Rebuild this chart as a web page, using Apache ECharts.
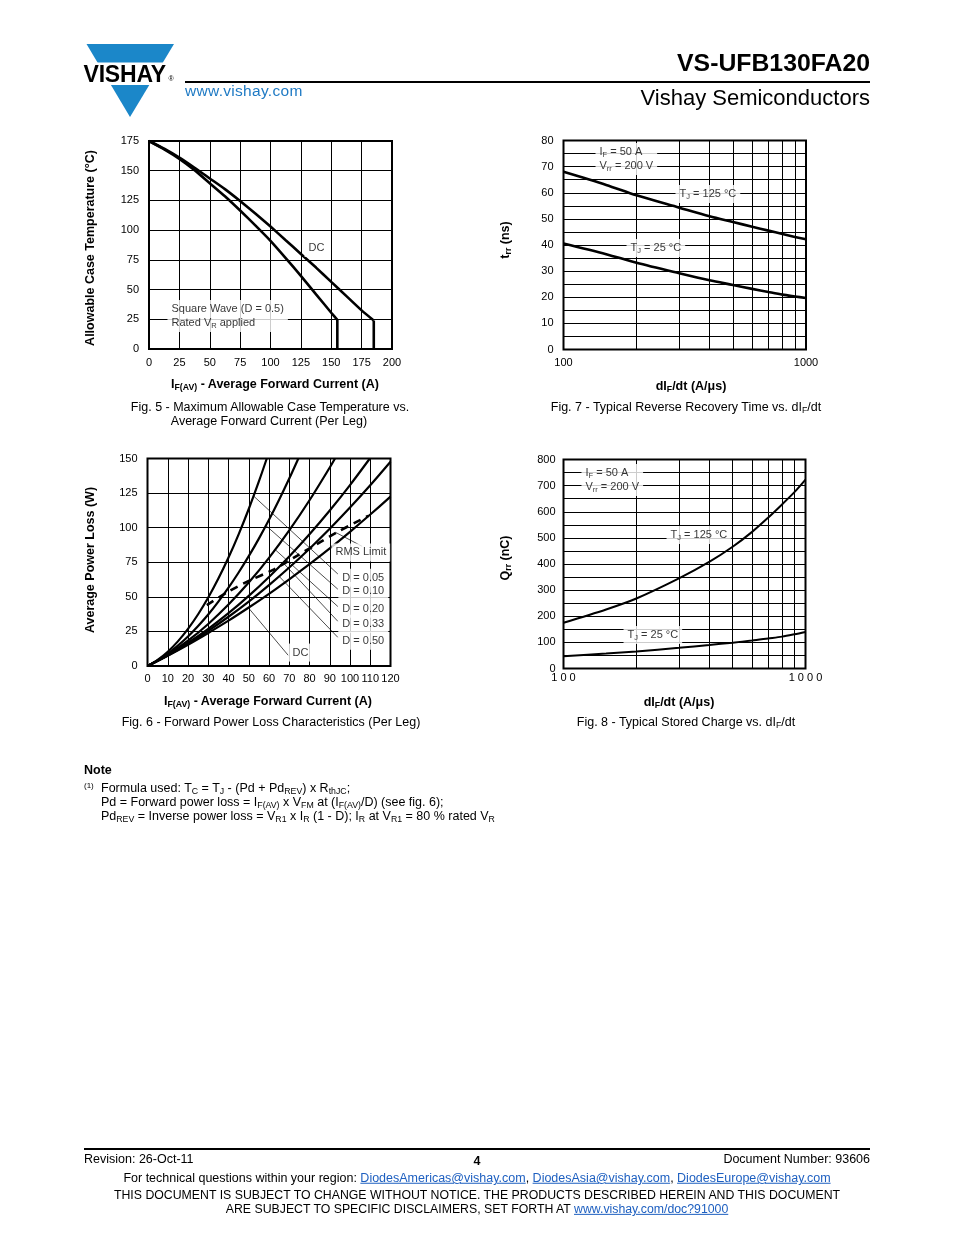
<!DOCTYPE html>
<html><head><meta charset="utf-8">
<script src="https://cdn.jsdelivr.net/npm/echarts@6/dist/echarts.min.js"></script>
<style>
html,body{margin:0;padding:0;background:#fff;}
#page{position:relative;width:954px;height:1235px;overflow:hidden;font-family:'Liberation Sans',Arial,Helvetica,sans-serif;color:#000;background:#fff;}
#chart{position:absolute;left:0;top:0;width:954px;height:1235px;}
.t{position:absolute;white-space:nowrap;line-height:1;z-index:5;pointer-events:none;}
.c{transform:translate(-50%,-50%);}
.lc{transform:translate(0,-50%);}
.rc{transform:translate(-100%,-50%);}
.r{transform:translate(-50%,-50%) rotate(-90deg);}
sub{font-size:70%;vertical-align:-0.3em;line-height:0;}
.b{font-weight:bold;}
.f12{font-size:12.5px;}
a{color:#1d5fc0;text-decoration:underline;}
.rule{position:absolute;background:#000;height:2px;}
</style></head>
<body>
<div id="page">
<div id="chart"></div>

<!-- header -->
<svg style="position:absolute;left:0;top:0;z-index:4" width="954" height="130">
  <polygon points="86.5,44 174,44 130,117" fill="#1b87c9"/>
  <rect x="80" y="62.5" width="100" height="22.5" fill="#fff"/>
  <text x="83.5" y="81.5" font-family="Liberation Sans, Arial, sans-serif" font-weight="bold" font-size="23" letter-spacing="-0.2" fill="#000">VISHAY</text>
  <text x="168.5" y="80.5" font-family="Liberation Sans, Arial, sans-serif" font-size="7" fill="#000">®</text>
</svg>
<div class="rule" style="left:185px;top:81px;width:685px;"></div>
<div class="t rc b" style="left:870px;top:63px;font-size:24.8px;">VS-UFB130FA20</div>
<div class="t rc" style="left:870px;top:98px;font-size:22px;">Vishay Semiconductors</div>
<div class="t lc" style="left:185px;top:91px;font-size:15.5px;color:#1f7ac4;letter-spacing:0.3px;">www.vishay.com</div>

<!-- figure texts -->
<div class="t r b f12" style="left:90px;top:248px;">Allowable Case Temperature (°C)</div>
<div class="t c b f12" style="left:275px;top:384px;">I<sub>F(AV)</sub> - Average Forward Current (A)</div>
<div class="t c f12" style="left:270px;top:407px;">Fig. 5 - Maximum Allowable Case Temperature vs.</div>
<div class="t c f12" style="left:269px;top:421px;">Average Forward Current (Per Leg)</div>

<div class="t r b f12" style="left:505px;top:240px;">t<sub>rr</sub> (ns)</div>
<div class="t c b f12" style="left:691px;top:386px;">dI<sub>F</sub>/dt (A/μs)</div>
<div class="t c f12" style="left:686px;top:407px;">Fig. 7 - Typical Reverse Recovery Time vs. dI<sub>F</sub>/dt</div>

<div class="t r b f12" style="left:90px;top:560px;">Average Power Loss (W)</div>
<div class="t c b f12" style="left:268px;top:701px;">I<sub>F(AV)</sub> - Average Forward Current (A)</div>
<div class="t c f12" style="left:271px;top:722px;">Fig. 6 - Forward Power Loss Characteristics (Per Leg)</div>

<div class="t r b f12" style="left:505px;top:558px;">Q<sub>rr</sub> (nC)</div>
<div class="t c b f12" style="left:679px;top:702px;">dI<sub>F</sub>/dt (A/μs)</div>
<div class="t c f12" style="left:686px;top:722px;">Fig. 8 - Typical Stored Charge vs. dI<sub>F</sub>/dt</div>

<!-- note -->
<div class="t lc b" style="left:84px;top:770px;font-size:12.5px;">Note</div>
<div class="t lc" style="left:84px;top:786px;font-size:8px;">(1)</div>
<div class="t lc f12" style="left:101px;top:788px;">Formula used: T<sub>C</sub> = T<sub>J</sub> - (Pd + Pd<sub>REV</sub>) x R<sub>thJC</sub>;</div>
<div class="t lc f12" style="left:101px;top:802px;">Pd = Forward power loss = I<sub>F(AV)</sub> x V<sub>FM</sub> at (I<sub>F(AV)</sub>/D) (see fig. 6);</div>
<div class="t lc f12" style="left:101px;top:816px;">Pd<sub>REV</sub> = Inverse power loss = V<sub>R1</sub> x I<sub>R</sub> (1 - D); I<sub>R</sub> at V<sub>R1</sub> = 80 % rated V<sub>R</sub></div>

<!-- footer -->
<div class="rule" style="left:84px;top:1148px;width:786px;"></div>
<div class="t lc f12" style="left:84px;top:1159px;">Revision: 26-Oct-11</div>
<div class="t c b f12" style="left:477px;top:1161px;">4</div>
<div class="t rc f12" style="left:870px;top:1159px;">Document Number: 93606</div>
<div class="t c f12" style="left:477px;top:1178px;">For technical questions within your region: <a>DiodesAmericas@vishay.com</a>, <a>DiodesAsia@vishay.com</a>, <a>DiodesEurope@vishay.com</a></div>
<div class="t c" style="left:477px;top:1195px;font-size:12.3px;">THIS DOCUMENT IS SUBJECT TO CHANGE WITHOUT NOTICE. THE PRODUCTS DESCRIBED HEREIN AND THIS DOCUMENT</div>
<div class="t c" style="left:477px;top:1209px;font-size:12.3px;">ARE SUBJECT TO SPECIFIC DISCLAIMERS, SET FORTH AT <a>www.vishay.com/doc?91000</a></div>
</div>

<script>
// ---------- DATA ----------
// Fig. 5: case temperature (°C) vs average forward current (A)
const fig5DC = [[0,175],[12.5,168.5],[25,161],[37.5,152.5],[50,143.5],[62.5,134.5],[75,124.5],[87.5,114],[100,103],[112.5,91.5],[125,80],[137.5,68.5],[150,56.5],[162.5,44.5],[175,32.5],[185,24]];
const fig5SQ = [[0,175],[12.5,168],[25,160],[37.5,150.5],[50,139.5],[62.5,128.5],[75,116.5],[87.5,104],[100,91],[112.5,76.5],[125,61.5],[137.5,46],[150,30.5],[155,24.5]];

// Fig. 7: trr (ns) vs dIF/dt (A/us)
const fig7X = [100,150,200,300,400,500,600,700,800,900,1000];
const fig7T125 = [68,63,59,54.3,51,48.8,47,45.5,44.2,43.1,42.2];
const fig7T25 = [40.6,36.5,33.2,29.2,26.5,24.7,23.2,22,21,20.3,19.7];
const fig7GridX = [200,300,400,500,600,700,800,900];

// Fig. 6: average power loss (W) vs average forward current (A)
const fig6D005 = [[0,0],[5,4.4],[10,10.3],[15,17.8],[20,26.8],[25,37.4],[30,49.5],[35,63.2],[40,78.4],[45,95.2],[50,113.5],[55,133.4],[58.9,150]];
const fig6D010 = [[0,0],[5,4],[10,8.9],[15,14.7],[20,21.3],[25,28.9],[30,37.2],[35,46.5],[40,56.6],[45,67.6],[50,79.4],[55,92.1],[60,105.7],[65,120.2],[70,135.5],[74.5,150]];
const fig6D020 = [[0,0],[10,8.2],[20,18.3],[30,30.4],[40,44.4],[50,60.3],[60,78.2],[70,98],[80,119.8],[90,143.5],[92.6,150]];
const fig6D033 = [[0,0],[10,7.8],[20,16.8],[30,26.9],[40,38.2],[50,50.7],[60,64.4],[70,79.2],[80,95.2],[90,112.4],[100,130.8],[109.8,150]];
const fig6D050 = [[0,0],[10,7.6],[20,16.1],[30,25.4],[40,35.6],[50,46.6],[60,58.5],[70,71.2],[80,84.8],[90,99.2],[100,114.5],[110,130.6],[120,147.6]];
const fig6DC = [[0,0],[10,7.45],[20,15.4],[30,23.9],[40,32.8],[50,42.3],[60,52.2],[70,62.7],[80,73.6],[90,85],[100,97],[110,109.5],[120,122.4]];
const fig6RMS = [[29.3,44],[40,53.8],[50,61.5],[62,69.5],[73.6,79.5],[83.5,88],[93.4,96.5],[103,104],[109,108.5]];

// Fig. 8: Qrr (nC) vs dIF/dt (A/us)
const fig8X = [100,150,200,300,400,500,600,700,800,900,1000];
const fig8T125 = [175,226,268,345,408,466,522,577,628,675,723];
const fig8T25 = [47,57,65,79,90,99,107,115,122,131,140];
const fig8GridX = [200,300,400,500,600,700,800,900];

// ---------- ANNOTATIONS (data units) ----------
const fig5Labels = [
  {x:127.6, y:85, text:'{m|DC}'},
  {x:14.8, y:27.8, text:'{m|Square Wave (D = 0.5)}\n{m|Rated V}{s|R}{m| applied}'}
];
const fig7Labels = [
  {x:134.9, y:72.9, text:'{m|I}{s|F}{m| = 50 A}\n{m|V}{s|rr}{m| = 200 V}'},
  {x:288.3, y:59.5, text:'{m|T}{s|J}{m| = 125 °C}'},
  {x:181.1, y:38.85, text:'{m|T}{s|J}{m| = 25 °C}'}
];
const fig8Labels = [
  {x:118.1, y:721.5, text:'{m|I}{s|F}{m| = 50 A}\n{m|V}{s|rr}{m| = 200 V}'},
  {x:265.3, y:511, text:'{m|T}{s|J}{m| = 125 °C}'},
  {x:176.2, y:128.2, text:'{m|T}{s|J}{m| = 25 °C}'}
];
const fig6Labels = [
  {x:90.6, y:82.1, text:'{m|RMS Limit}'},
  {x:94, y:63.8, text:'{m|D = 0.05}'},
  {x:94, y:54.2, text:'{m|D = 0.10}'},
  {x:94, y:41.4, text:'{m|D = 0.20}'},
  {x:94, y:30.5, text:'{m|D = 0.33}'},
  {x:94, y:18.3, text:'{m|D = 0.50}'},
  {x:69.4, y:9.7, text:'{m|DC}'}
];
const fig6Leaders = [
  [[93,96.5],[106,86.5]],
  [[52.3,123],[94,66.5]],
  [[58.5,101.5],[94,55.5]],
  [[63,84.2],[94,43]],
  [[67,74.6],[94,32.3]],
  [[65,64.8],[94,20.7]],
  [[49.8,42.1],[69.5,7.7]]
];

// ---------- CHART ----------
const FONT = "'Liberation Sans', Arial, Helvetica, sans-serif";
const rich = {
  m:{fontSize:11, fontFamily:FONT, color:'#000', lineHeight:14},
  s:{fontSize:7.5, fontFamily:FONT, color:'#000', lineHeight:14, verticalAlign:'bottom'}
};
const gridLine = {show:true, lineStyle:{color:'#000', width:1, type:'solid'}};
function tick(margin, fmt){
  const o = {color:'#000', fontSize:11, fontFamily:FONT, margin:margin};
  if (fmt) o.formatter = fmt;
  return o;
}
function valAxis(gi, min, max, interval, margin, extra){
  return Object.assign({gridIndex:gi, type:'value', min:min, max:max, interval:interval,
    axisLine:{show:false}, axisTick:{show:false}, axisLabel:tick(margin), splitLine:gridLine}, extra||{});
}
function logAxis(gi, margin, fmt){
  return {gridIndex:gi, type:'log', logBase:10, min:100, max:1000,
    axisLine:{show:false}, axisTick:{show:false}, axisLabel:tick(margin, fmt), splitLine:gridLine};
}
const minor = {minorTick:{show:false, splitNumber:2}, minorSplitLine:{show:true, lineStyle:{color:'#000', width:1}}};

function curve(ai, data, width, smooth, extra){
  return Object.assign({type:'line', xAxisIndex:ai, yAxisIndex:ai, data:data, symbol:'none', showSymbol:false,
    smooth:smooth, silent:true, z:3, lineStyle:{color:'#000', width:width}}, extra||{});
}
function labels(ai, items){
  return {type:'scatter', xAxisIndex:ai, yAxisIndex:ai, symbolSize:1, silent:true, z:10,
    itemStyle:{color:'rgba(0,0,0,0)'},
    data: items.map(it => ({value:[it.x, it.y], label:{formatter:it.text}})),
    label:{show:true, position:'right', distance:0, backgroundColor:'#fff', padding:[2,4], rich:rich,
      color:'#000', fontSize:11, fontFamily:FONT}};
}
function vgrid(ai, xs){
  return {type:'line', xAxisIndex:ai, yAxisIndex:ai, data:[], silent:true, z:2,
    markLine:{silent:true, symbol:['none','none'], label:{show:false}, animation:false,
      lineStyle:{color:'#000', width:1, type:'solid'},
      emphasis:{disabled:true},
      data: xs.map(v => ({xAxis:v}))}};
}
const zip = (xs, ys) => xs.map((x,i) => [x, ys[i]]);
const drop = arr => [arr[arr.length-1], [arr[arr.length-1][0], 0]];
const plain = v => String(Math.round(v));
const spaced = v => String(Math.round(v)).split('').join(' ');

const border = {show:true, borderColor:'#000', borderWidth:2, backgroundColor:'transparent', containLabel:false};

const option = {
  animation:false,
  grid:[
    Object.assign({left:149, top:141, width:243, height:208}, border),
    Object.assign({left:563.5, top:140.5, width:242.5, height:209}, border),
    Object.assign({left:147.5, top:458.5, width:243, height:207.5}, border),
    Object.assign({left:563.5, top:459.5, width:242, height:209}, border)
  ],
  xAxis:[
    valAxis(0, 0, 200, 25, 8),
    logAxis(1, 8, plain),
    valAxis(2, 0, 120, 10, 7),
    logAxis(3, 4, spaced)
  ],
  yAxis:[
    valAxis(0, 0, 175, 25, 10),
    valAxis(1, 0, 80, 10, 10, minor),
    valAxis(2, 0, 150, 25, 10),
    valAxis(3, 0, 800, 100, 8, minor)
  ],
  series:[
    // Fig 5
    curve(0, fig5DC, 2.6, 0.2),
    curve(0, drop(fig5DC), 2.6, false),
    curve(0, fig5SQ, 2.6, 0.2),
    curve(0, drop(fig5SQ), 2.6, false),
    labels(0, fig5Labels),
    // Fig 7
    vgrid(1, fig7GridX),
    curve(1, zip(fig7X, fig7T125), 2.6, 0.3),
    curve(1, zip(fig7X, fig7T25), 2.6, 0.3),
    labels(1, fig7Labels),
    // Fig 6
    curve(2, fig6D005, 2.2, 0.3),
    curve(2, fig6D010, 2.2, 0.3),
    curve(2, fig6D020, 2.2, 0.3),
    curve(2, fig6D033, 2.2, 0.3),
    curve(2, fig6D050, 2.2, 0.3),
    curve(2, fig6DC, 2.2, 0.3),
    curve(2, fig6RMS, 2.6, 0.3, {lineStyle:{color:'#000', width:2.6, type:[8,6]}}),
    ...fig6Leaders.map(seg => curve(2, seg, 0.7, false, {z:4})),
    labels(2, fig6Labels),
    // Fig 8
    vgrid(3, fig8GridX),
    curve(3, zip(fig8X, fig8T125), 2, 0.3),
    curve(3, zip(fig8X, fig8T25), 2, 0.3),
    labels(3, fig8Labels)
  ]
};
const chart = echarts.init(document.getElementById('chart'), null, {renderer:'canvas', width:954, height:1235});
chart.setOption(option);
</script>
</body></html>
